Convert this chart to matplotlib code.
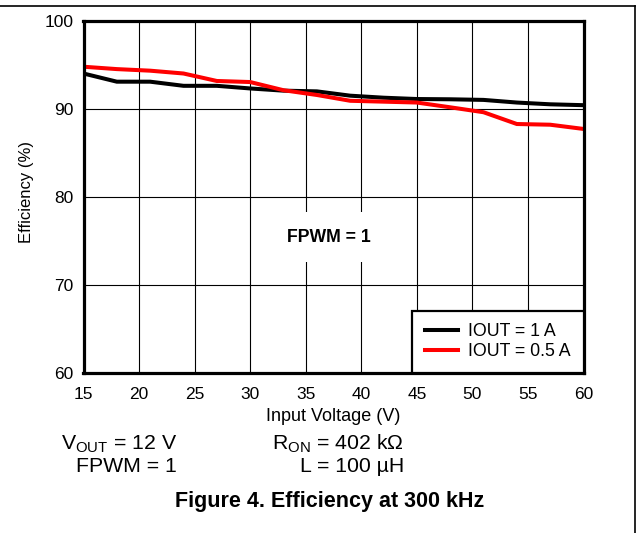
import matplotlib
matplotlib.use("Agg")
import matplotlib.pyplot as plt
from matplotlib.lines import Line2D

plt.rcParams['font.family'] = ['Liberation Sans', 'DejaVu Sans']

vin = [15, 18, 21, 24, 27, 30, 33, 36, 39, 42, 45, 48, 51, 54, 57, 60]
eff_1a = [94.0, 93.07, 93.07, 92.6, 92.6, 92.3, 92.05, 91.97, 91.48, 91.25, 91.1, 91.07, 91.0, 90.7, 90.5, 90.4]
eff_05a = [94.77, 94.5, 94.32, 94.0, 93.15, 93.03, 92.1, 91.56, 90.9, 90.8, 90.7, 90.16, 89.6, 88.26, 88.18, 87.7]
labels = ["IOUT = 1 A", "IOUT = 0.5 A"]
xticks = [15, 20, 25, 30, 35, 40, 45, 50, 55, 60]
yticks = [60, 70, 80, 90, 100]

W, H = 639, 533
fig = plt.figure(figsize=(W / 100, H / 100), dpi=100)
ax = fig.add_axes([83.5 / W, 1 - 372.7 / H, 500 / W, 352 / H])

ax.plot(vin, eff_1a, color='black', lw=2.9, label=labels[0], solid_joinstyle='miter')
ax.plot(vin, eff_05a, color='#ff0000', lw=2.9, label=labels[1], solid_joinstyle='miter')

ax.set_xlim(15, 60)
ax.set_ylim(60, 100)
ax.set_xticks(xticks)
ax.set_yticks(yticks)
ax.tick_params(length=0, labelsize=12.5)
ax.tick_params(axis='x', pad=10)
ax.tick_params(axis='y', pad=7)
ax.grid(True, color='black', lw=0.8)
ax.set_axisbelow(True)
for s in ax.spines.values():
    s.set_linewidth(2.3)
    s.set_zorder(5)

ax.set_xlabel("Input Voltage (V)", fontsize=13, labelpad=4.6)
ax.set_ylabel("Efficiency (%)", fontsize=12)
ax.yaxis.set_label_coords(-(83.5 - 33.5) / 500, (372.7 - 192.4) / 352)

leg = ax.legend(loc='lower right', bbox_to_anchor=(1, 0), borderaxespad=0,
                fontsize=12.8, handlelength=1.85, handletextpad=0.6,
                labelspacing=0.17, fancybox=False, framealpha=1,
                edgecolor='black', borderpad=0.7)
leg.get_frame().set_linewidth(1.6)
leg.set_zorder(6)

ax.text(37.1, 75.4, "FPWM = 1", fontsize=12.7, fontweight='bold',
        ha='center', va='center',
        bbox=dict(facecolor='white', edgecolor='none', pad=12))

fs = 15.3
fig.text(177 / W, 1 - 449 / H, r"V$_{\mathregular{OUT}}$ = 12 V", fontsize=fs, ha='right', va='baseline')
fig.text(177 / W, 1 - 472 / H, "FPWM = 1", fontsize=fs, ha='right', va='baseline')
fig.text(404 / W, 1 - 449 / H, r"R$_{\mathregular{ON}}$ = 402 kΩ", fontsize=fs, ha='right', va='baseline')
fig.text(404 / W, 1 - 472 / H, "L = 100 µH", fontsize=fs, ha='right', va='baseline')
fig.text(330 / W, 1 - 507 / H, "Figure 4. Efficiency at 300 kHz", fontsize=15.5,
         fontweight='bold', ha='center', va='baseline')

fig.add_artist(Line2D([0, 634.5 / W], [1 - 6 / H, 1 - 6 / H], color='black', lw=1.2))
fig.add_artist(Line2D([634.5 / W, 634.5 / W], [1 - 6 / H, 0], color='black', lw=1.2))

fig.savefig("out.png", dpi=100)
